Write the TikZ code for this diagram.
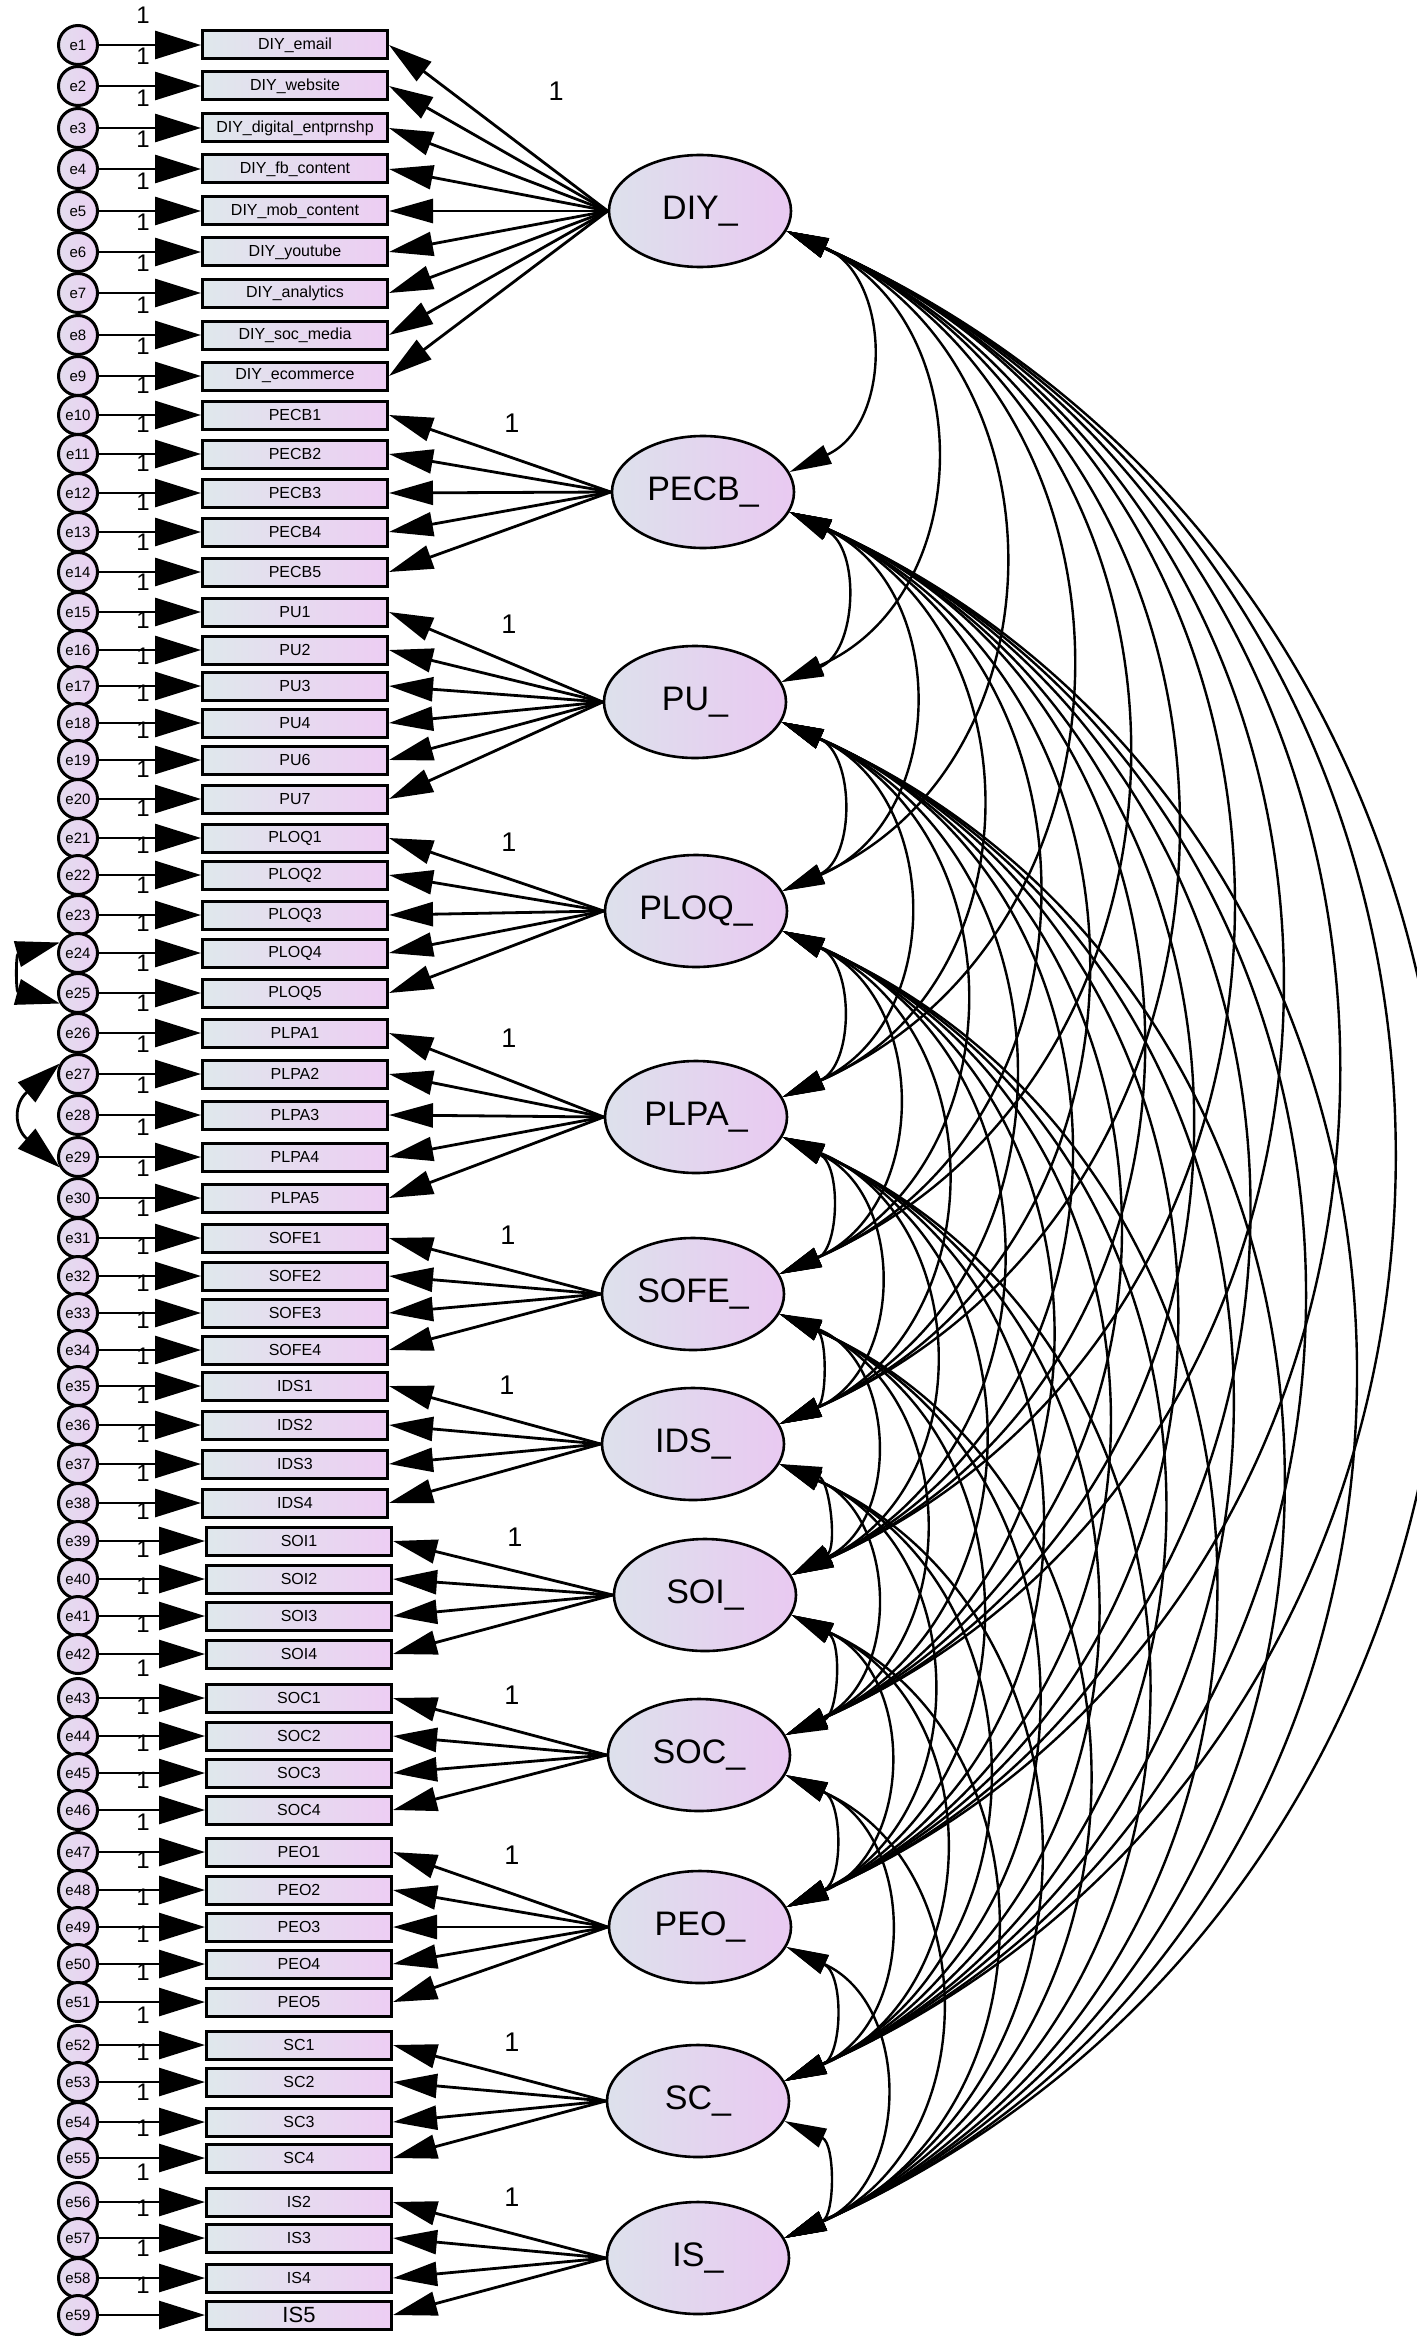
\documentclass[tikz,border=0pt]{standalone}
\usepackage{fontspec}
\setmainfont{Liberation Sans}
\usetikzlibrary{shapes.geometric, arrows.meta, calc}

\definecolor{boxleft}{HTML}{DFE8EC}
\definecolor{boxright}{HTML}{EDCDF3}
\definecolor{latleft}{HTML}{DDE1EC}
\definecolor{latright}{HTML}{E9C9F1}
\definecolor{errleft}{HTML}{E3DDEE}
\definecolor{errright}{HTML}{EBD0F3}

\begin{document}
\begin{tikzpicture}[x=1pt, y=-1pt,
    % Define styles
    indicator/.style={rectangle, draw, line width=3pt, minimum width=185pt, minimum height=28pt, inner sep=0pt, left color=boxleft, right color=boxright, font=\fontsize{16}{16}\selectfont},
    error/.style={circle, draw, line width=3pt, minimum size=39pt, inner sep=0pt, left color=errleft, right color=errright, font=\fontsize{15}{15}\selectfont},
    latent/.style={ellipse, draw, line width=2.6pt, minimum width=182pt, minimum height=112pt, inner sep=0pt, left color=latleft, right color=latright, font=\fontsize{34}{34}\selectfont},
    loading/.style={line width=2.8pt, -{Triangle[length=44pt, width=24pt]}},
    residual/.style={line width=2.8pt, -{Triangle[length=46pt, width=28pt]}},
    cov/.style={line width=2.4pt, {Triangle[length=42pt, width=20pt]}-{Triangle[length=42pt, width=20pt]}},
    ecov/.style={line width=2.8pt, {Triangle[length=44pt, width=26pt]}-{Triangle[length=44pt, width=26pt]}},
    one/.style={font=\fontsize{24}{24}\selectfont},
    bigone/.style={font=\fontsize{27}{27}\selectfont}
]
\useasboundingbox (0,0) rectangle (1416,2341);

% Observed indicators with their error terms
\foreach \lbl/\yy [count=\k] in {
    DIY\_email/45, DIY\_website/86, DIY\_digital\_entprnshp/128, DIY\_fb\_content/169, DIY\_mob\_content/211,
    DIY\_youtube/252, DIY\_analytics/293, DIY\_soc\_media/335, DIY\_ecommerce/376,
    PECB1/415, PECB2/454, PECB3/493, PECB4/532, PECB5/572,
    PU1/612, PU2/650, PU3/686, PU4/723, PU6/760, PU7/799,
    PLOQ1/838, PLOQ2/875, PLOQ3/915, PLOQ4/953, PLOQ5/993,
    PLPA1/1033, PLPA2/1074, PLPA3/1115, PLPA4/1157, PLPA5/1198,
    SOFE1/1238, SOFE2/1276, SOFE3/1313, SOFE4/1350,
    IDS1/1386, IDS2/1425, IDS3/1464, IDS4/1503,
    SOI1/1541, SOI2/1579, SOI3/1616, SOI4/1654,
    SOC1/1698, SOC2/1736, SOC3/1773, SOC4/1810,
    PEO1/1852, PEO2/1890, PEO3/1927, PEO4/1964, PEO5/2002,
    SC1/2045, SC2/2082, SC3/2122, SC4/2158,
    IS2/2202, IS3/2238, IS4/2278, IS5/2315}{
    \pgfmathsetmacro{\xx}{\k<39 ? 295 : 299}
    \node[indicator] (v\k) at (\xx,\yy) {\ifnum\k=59 \fontsize{22}{22}\selectfont\fi\lbl};
    \node[error] (e\k) at (78,\yy) {e\k};
    \node[one] (r\k) at (143,\yy-30) {1};
    \draw[residual] (e\k) -- (v\k);
}

% Latent factors
\node[latent] (DIY) at (700,211) {DIY\_};
\node[latent] (PECB) at (703,492) {PECB\_};
\node[latent] (PU) at (695,702) {PU\_};
\node[latent] (PLOQ) at (696,911) {PLOQ\_};
\node[latent] (PLPA) at (696,1117) {PLPA\_};
\node[latent] (SOFE) at (693,1294) {SOFE\_};
\node[latent] (IDS) at (693,1444) {IDS\_};
\node[latent] (SOI) at (705,1595) {SOI\_};
\node[latent] (SOC) at (699,1755) {SOC\_};
\node[latent] (PEO) at (700,1927) {PEO\_};
\node[latent] (SC) at (698,2101) {SC\_};
\node[latent] (IS) at (698,2258) {IS\_};

% Factor loadings
\foreach \k in {1,...,9} \draw[loading] (DIY.west) -- (v\k.east);
\foreach \k in {10,...,14} \draw[loading] (PECB.west) -- (v\k.east);
\foreach \k in {15,...,20} \draw[loading] (PU.west) -- (v\k.east);
\foreach \k in {21,...,25} \draw[loading] (PLOQ.west) -- (v\k.east);
\foreach \k in {26,...,30} \draw[loading] (PLPA.west) -- (v\k.east);
\foreach \k in {31,...,34} \draw[loading] (SOFE.west) -- (v\k.east);
\foreach \k in {35,...,38} \draw[loading] (IDS.west) -- (v\k.east);
\foreach \k in {39,...,42} \draw[loading] (SOI.west) -- (v\k.east);
\foreach \k in {43,...,46} \draw[loading] (SOC.west) -- (v\k.east);
\foreach \k in {47,...,51} \draw[loading] (PEO.west) -- (v\k.east);
\foreach \k in {52,...,55} \draw[loading] (SC.west) -- (v\k.east);
\foreach \k in {56,...,59} \draw[loading] (IS.west) -- (v\k.east);

% Fixed loadings
\node[bigone] (fDIY) at (556,91) {1};
\node[bigone] (fPECB) at (512,423) {1};
\node[bigone] (fPU) at (509,624) {1};
\node[bigone] (fPLOQ) at (509,842) {1};
\node[bigone] (fPLPA) at (509,1038) {1};
\node[bigone] (fSOFE) at (508,1235) {1};
\node[bigone] (fIDS) at (507,1385) {1};
\node[bigone] (fSOI) at (515,1537) {1};
\node[bigone] (fSOC) at (512,1695) {1};
\node[bigone] (fPEO) at (512,1855) {1};
\node[bigone] (fSC) at (512,2042) {1};
\node[bigone] (fIS) at (512,2197) {1};

% Covariances between factors
\foreach \a [count=\i] in {DIY,PECB,PU,PLOQ,PLPA,SOFE,IDS,SOI,SOC,PEO,SC,IS}{
    \foreach \b [count=\j] in {DIY,PECB,PU,PLOQ,PLPA,SOFE,IDS,SOI,SOC,PEO,SC,IS}{
        \ifnum\j>\i
            \draw[cov] (\a.-13) .. controls ($(\a.-13)!0.474!66:(\b.13)$) and ($(\b.13)!0.474!-66:(\a.-13)$) .. (\b.13);
        \fi
    }
}

% Correlated errors
\draw[ecov] (e24.150) .. controls +(-44,12) and +(-44,-12) .. (e25.210);
\draw[ecov] (e27.150) .. controls +(-46,40) and +(-46,-40) .. (e29.210);

\end{tikzpicture}
\end{document}
